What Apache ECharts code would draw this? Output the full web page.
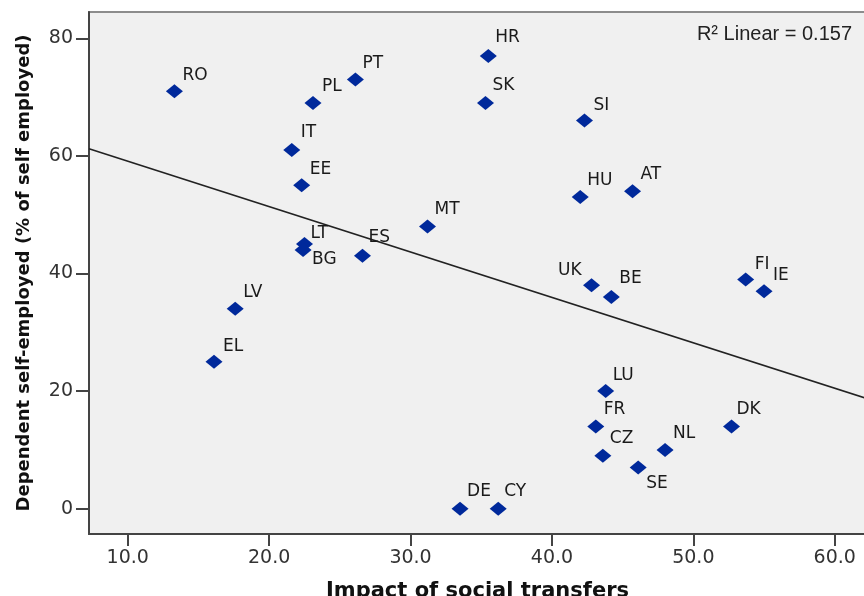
<!DOCTYPE html>
<html>
<head>
<meta charset="utf-8">
<script src="https://cdn.jsdelivr.net/npm/echarts@6/dist/echarts.min.js"></script>
<style>
  html, body { margin: 0; padding: 0; background: #ffffff; }
  #chart { width: 864px; height: 596px; }
</style>
</head>
<body>
<div id="chart"></div>
<script>
// ---- data ----
const countries = ['RO','PL','PT','HR','SK','SI','IT','EE','HU','AT','MT','LT','BG','ES','UK','BE','FI','IE','LV','EL','LU','FR','CZ','SE','NL','DK','DE','CY'];
const socialTransfers = [13.3, 23.1, 26.1, 35.5, 35.3, 42.3, 21.6, 22.3, 42.0, 45.7, 31.2, 22.5, 22.4, 26.6, 42.8, 44.2, 53.7, 55.0, 17.6, 16.1, 43.8, 43.1, 43.6, 46.1, 48.0, 52.7, 33.5, 36.2];
const dependentSelfEmployed = [71.0, 69.0, 73.0, 77.0, 69.0, 66.0, 61.0, 55.0, 53.0, 54.0, 48.0, 45.0, 44.0, 43.0, 38.0, 36.0, 39.0, 37.0, 34.0, 25.0, 20.0, 14.0, 9.0, 7.0, 10.0, 14.0, 0.0, 0.0];
const fitLine = [[7.26, 61.2], [62.2, 18.8]];
const xTicks = [10, 20, 30, 40, 50, 60];
const yTicks = [0, 20, 40, 60, 80];
const rSquaredText = 'R\u00B2 Linear = 0.157';
const xTitle = 'Impact of social transfers';
const yTitle = 'Dependent self-employed (% of self employed)';

// ---- label placement (style only) ----
const labelOffsets = {
  RO: [8, -16], PL: [9, -16], PT: [7, -16], HR: [7, -18], SK: [7, -17], SI: [9, -15],
  IT: [9, -17], EE: [8, -16], HU: [7, -16], AT: [8, -17], MT: [7, -17], LT: [6, -11],
  BG: [9, 10], ES: [6, -18], UK: [-10, -15], BE: [8, -18], FI: [9, -15], IE: [9, -16],
  LV: [8, -16], EL: [9, -15], LU: [7, -16], FR: [8, -17], CZ: [7, -17], SE: [8, 16],
  NL: [8, -16], DK: [5, -17], DE: [7, -17], CY: [6, -17]
};
const rightAligned = { UK: true };

const points = countries.map((c, i) => {
  const off = labelOffsets[c] || [8, -16];
  return {
    name: c,
    value: [socialTransfers[i], dependentSelfEmployed[i]],
    label: {
      show: true,
      formatter: c,
      position: 'inside',
      align: rightAligned[c] ? 'right' : 'left',
      verticalAlign: 'middle',
      offset: off
    }
  };
});

const chart = echarts.init(document.getElementById('chart'));
const tickFont = { fontFamily: 'DejaVu Sans', fontSize: 19, color: '#333333' };

chart.setOption({
  animation: false,
  backgroundColor: '#ffffff',
  grid: {
    left: 89, top: 12, right: -2, bottom: 62,
    outerBoundsMode: 'none',
    containLabel: false,
    show: true,
    backgroundColor: '#f0f0f0',
    borderColor: '#8c8c8c',
    borderWidth: 2
  },
  xAxis: {
    type: 'value',
    min: 7.26, max: 62.21,
    splitLine: { show: false },
    axisLine: { show: true, onZero: false, lineStyle: { color: '#444444', width: 2 } },
    axisTick: { show: true, length: 12, customValues: xTicks, lineStyle: { color: '#444444', width: 2 } },
    axisLabel: Object.assign({ customValues: xTicks, margin: 15, formatter: v => v.toFixed(1) }, tickFont),
    name: xTitle,
    nameLocation: 'middle',
    nameGap: 47,
    nameTextStyle: { fontFamily: 'DejaVu Sans', fontWeight: 'bold', fontSize: 21, color: '#111111' }
  },
  yAxis: {
    type: 'value',
    min: -4.3, max: 84.47,
    splitLine: { show: false },
    axisLine: { show: true, onZero: false, lineStyle: { color: '#444444', width: 2 } },
    axisTick: { show: true, length: 13, customValues: yTicks, lineStyle: { color: '#444444', width: 2 } },
    axisLabel: Object.assign({ customValues: yTicks, margin: 16 }, tickFont),
    name: yTitle,
    nameLocation: 'middle',
    nameGap: 56,
    nameRotate: 90,
    nameTextStyle: { fontFamily: 'DejaVu Sans', fontWeight: 'bold', fontSize: 18, color: '#111111' }
  },
  graphic: [{
    type: 'text',
    right: 12,
    top: 24,
    style: { text: rSquaredText, font: '20px "Liberation Sans", Arial, sans-serif', fill: '#222222' }
  }],
  series: [
    {
      type: 'line',
      data: fitLine,
      showSymbol: false,
      symbol: 'none',
      lineStyle: { color: '#222222', width: 1.6 },
      z: 2
    },
    {
      type: 'scatter',
      data: points,
      symbol: 'diamond',
      symbolSize: [17, 14],
      itemStyle: { color: '#00299b', opacity: 1 },
      label: { fontFamily: 'DejaVu Sans', fontSize: 17, color: '#1a1a1a' },
      emphasis: { disabled: true },
      z: 3
    }
  ]
});
</script>
</body>
</html>
